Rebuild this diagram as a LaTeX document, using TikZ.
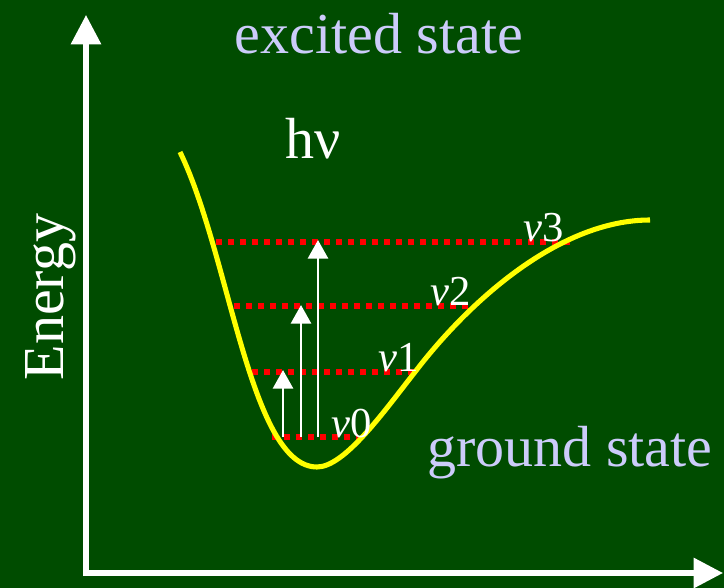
\documentclass[tikz,border=0pt]{standalone}
\usepackage{fontspec}
\setmainfont{Liberation Serif}
\usetikzlibrary{arrows.meta}
\definecolor{bg}{RGB}{0,76,0}
\definecolor{lav}{RGB}{204,204,250}
\definecolor{curveyellow}{RGB}{255,255,0}
\begin{document}
\begin{tikzpicture}[x=0.75pt,y=-0.75pt,
  axis/.style={white,line width=3.8pt,-{Triangle[width=22pt,length=22pt]}},
  level/.style={red,line width=4.5pt,dash pattern=on 4.5pt off 4.5pt},
  trans/.style={white,line width=2.2pt,-{Triangle[width=15pt,length=14pt]}},
  big/.style={font=\fontsize{43.5}{50}\selectfont},
  vlab/.style={white,font=\fontsize{32}{36}\selectfont,anchor=base}]
\fill[bg] (0,0) rectangle (724,588);
\useasboundingbox (0,0) rectangle (724,588);
% axes
\coordinate (o) at (86,573);
\coordinate (ytop) at (86,15);
\coordinate (xend) at (723,573);
\draw[axis] (86,576) -- (ytop);
\draw[axis] (83,573) -- (xend);
% levels
\coordinate (l0a) at (272,437); \coordinate (l0b) at (358,437);
\coordinate (l1a) at (252,372); \coordinate (l1b) at (418,372);
\coordinate (l2a) at (234,306); \coordinate (l2b) at (468,306);
\coordinate (l3a) at (216,242); \coordinate (l3b) at (572,242);
\draw[level] (l0a) -- (l0b);
\draw[level] (l1a) -- (l1b);
\draw[level] (l2a) -- (l2b);
\draw[level] (l3a) -- (l3b);
% potential curve
\draw[curveyellow,line width=3.8pt,line cap=butt]
  (180,152) .. controls (230,255) and (250,467) .. (317,467)
            .. controls (345,467) and (385,410) .. (415,372)
            .. controls (470,300) and (560,220) .. (650,220);
% transitions
\coordinate (a1s) at (283,437); \coordinate (a1e) at (283,370);
\coordinate (a2s) at (301,437); \coordinate (a2e) at (301,305);
\coordinate (a3s) at (318,437); \coordinate (a3e) at (318,240);
\draw[trans] (a1s) -- (a1e);
\draw[trans] (a2s) -- (a2e);
\draw[trans] (a3s) -- (a3e);
% labels
\node[vlab] (v0) at (352,437) {{\itshape v}0};
\node[vlab] (v1) at (399,371) {{\itshape v}1};
\node[vlab] (v2) at (451,305) {{\itshape v}2};
\node[vlab] (v3) at (544,241) {{\itshape v}3};
\node[big,lav,anchor=base] (ex) at (379,54) {excited state};
\node[big,white,anchor=base west,inner sep=0pt] (hv) at (285,159) {hν};
\node[big,lav,anchor=base west,inner sep=0pt] (gs) at (427,466) {ground state};
\node[big,white,rotate=90,anchor=base] (en) at (63,297) {Energy};
\end{tikzpicture}
\end{document}
